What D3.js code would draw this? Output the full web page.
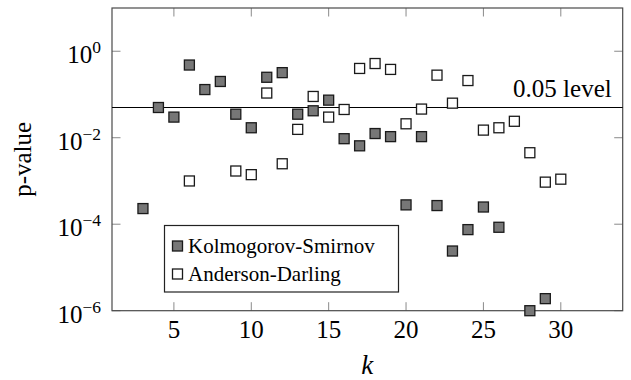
<!DOCTYPE html>
<html>
<head>
<meta charset="utf-8">
<script src="https://cdn.jsdelivr.net/npm/d3@7"></script>
<style>
  body { margin: 0; background: #fff; }
</style>
</head>
<body>
<div id="chart"></div>
<script>
// chart data
var ksK = [3, 4, 5, 6, 7, 8, 9, 10, 11, 12, 13, 14, 15, 16, 17, 18, 19, 20, 21, 22, 23, 24, 25, 26, 28, 29],
    ksP = [2.3e-4, 0.05, 0.03, 0.48, 0.13, 0.2, 0.035, 0.017, 0.25, 0.32, 0.035, 0.042, 0.074,
           0.0095, 0.0065, 0.0125, 0.0106, 2.8e-4, 0.0106, 2.7e-4, 2.4e-5, 7.5e-5, 2.5e-4, 8.5e-5,
           1.0e-6, 1.9e-6];
var adK = [6, 9, 10, 11, 12, 13, 14, 15, 16, 17, 18, 19, 20, 21, 22, 23, 24, 25, 26, 27, 28, 29, 30],
    adP = [1.0e-3, 1.7e-3, 1.4e-3, 0.108, 2.5e-3, 0.0156, 0.09, 0.030, 0.045, 0.40, 0.52, 0.38,
           0.021, 0.046, 0.28, 0.063, 0.21, 0.015, 0.017, 0.024, 0.0045, 9.4e-4, 1.1e-3];
var xTicks = [5, 10, 15, 20, 25, 30],
    yTicks = [1e-6, 1e-4, 1e-2, 1e0],
    seriesNames = ["Kolmogorov-Smirnov", "Anderson-Darling"],
    levelValue = 0.05,
    levelLabel = "0.05 level";

var W = 631, H = 380,
    m = { t: 8, r: 8.3, b: 69.3, l: 112 },
    w = W - m.l - m.r,
    h = H - m.t - m.b,
    serif = "'Liberation Serif', 'DejaVu Serif', 'Times New Roman', Times, serif";

var svg = d3.select("#chart").append("svg")
    .attr("width", W)
    .attr("height", H)
    .attr("font-family", serif)
    .style("font-family", serif);

var g = svg.append("g")
    .attr("transform", "translate(" + m.l + "," + m.t + ")");

var x = d3.scaleLinear().domain([1, 34]).range([0, w]),
    y = d3.scaleLog().domain([1e-6, 10]).range([h, 0]);

// ticks (inside, mirrored on all four sides)
var tickLen = 8.5, tickCol = "#8a8a8a";
xTicks.forEach(function(t) {
  g.append("line").attr("x1", x(t)).attr("x2", x(t)).attr("y1", h).attr("y2", h - tickLen)
    .attr("stroke", tickCol);
  g.append("line").attr("x1", x(t)).attr("x2", x(t)).attr("y1", 0).attr("y2", tickLen)
    .attr("stroke", tickCol);
  g.append("text")
    .attr("x", x(t)).attr("y", h + 27.5)
    .attr("text-anchor", "middle")
    .style("font-size", "25px")
    .text(t);
});
yTicks.forEach(function(t) {
  g.append("line").attr("x1", 0).attr("x2", tickLen).attr("y1", y(t)).attr("y2", y(t))
    .attr("stroke", tickCol);
  g.append("line").attr("x1", w).attr("x2", w - tickLen).attr("y1", y(t)).attr("y2", y(t))
    .attr("stroke", tickCol);
  var e = Math.round(Math.log10(t));
  var lab = g.append("text")
    .attr("x", -11).attr("y", y(t) + 12)
    .attr("text-anchor", "end")
    .style("font-size", "25px");
  lab.append("tspan").text("10");
  lab.append("tspan")
    .attr("dy", -10)
    .style("font-size", "17.5px")
    .text(e < 0 ? "\u2212" + (-e) : e);
});

// frame
g.append("rect")
  .attr("x", 0).attr("y", 0).attr("width", w).attr("height", h)
  .attr("fill", "none")
  .attr("stroke", "#4a4a4a")
  .attr("stroke-width", 1.2);

// 0.05 reference line
g.append("line")
  .attr("x1", 0).attr("x2", w)
  .attr("y1", y(levelValue)).attr("y2", y(levelValue))
  .attr("stroke", "#000")
  .attr("stroke-width", 1.2);
g.append("text")
  .attr("x", w - 11).attr("y", y(levelValue) - 11)
  .attr("text-anchor", "end")
  .style("font-size", "25px")
  .text(levelLabel);

// markers
var ms = 10;
var ksData = ksK.map(function(k, i) { return { k: k, p: ksP[i] }; }),
    adData = adK.map(function(k, i) { return { k: k, p: adP[i] }; });

function drawSquares(data, fill, cls) {
  g.selectAll("." + cls)
    .data(data)
    .enter().append("rect")
      .attr("class", cls)
      .attr("x", function(d) { return x(d.k) - ms / 2; })
      .attr("y", function(d) { return y(d.p) - ms / 2; })
      .attr("width", ms)
      .attr("height", ms)
      .attr("fill", fill)
      .attr("stroke", "#1a1a1a")
      .attr("stroke-width", 1.3);
}
drawSquares(ksData, "#777777", "ks");
drawSquares(adData, "#ffffff", "ad");

// legend
var lg = g.append("g").attr("transform", "translate(" + (164.5 - m.l) + "," + (225.5 - m.t) + ")");
lg.append("rect")
  .attr("width", 234).attr("height", 66.5)
  .attr("fill", "#fff")
  .attr("stroke", "#222")
  .attr("stroke-width", 1.2);
seriesNames.forEach(function(name, i) {
  var cy = 20.5 + i * 28;
  lg.append("rect")
    .attr("x", 13 - ms / 2).attr("y", cy - ms / 2)
    .attr("width", ms).attr("height", ms)
    .attr("fill", i === 0 ? "#777777" : "#ffffff")
    .attr("stroke", "#1a1a1a")
    .attr("stroke-width", 1.3);
  lg.append("text")
    .attr("x", 23.5).attr("y", cy + 6.5)
    .style("font-size", "21px")
    .text(name);
});

// axis titles
svg.append("text")
  .attr("transform", "translate(" + 31 + "," + (m.t + h / 2) + ") rotate(-90)")
  .attr("text-anchor", "middle")
  .style("font-size", "25px")
  .text("p-value");
svg.append("text")
  .attr("x", m.l + w / 2).attr("y", 374)
  .attr("text-anchor", "middle")
  .style("font-size", "27px")
  .style("font-style", "italic")
  .text("k");
</script>
</body>
</html>
